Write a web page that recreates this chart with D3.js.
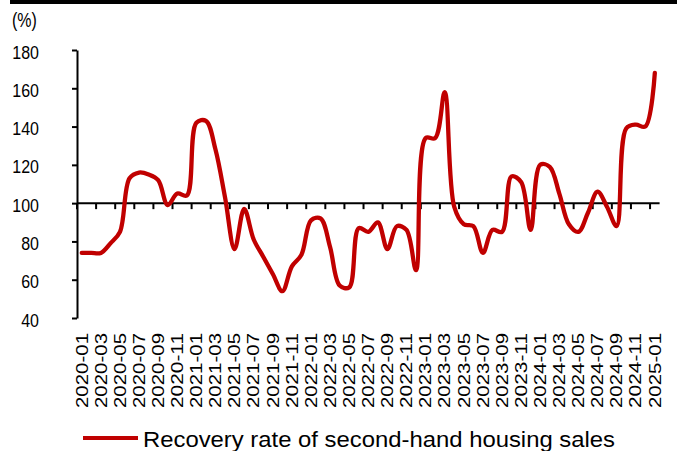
<!DOCTYPE html>
<html>
	<head>
		<meta charset="utf-8">
		<style>
* {
	margin: 0;
	padding: 0;
}
body {
	background: #fff;
	width: 677px;
	height: 451px;
	overflow: hidden;
}
svg {
	display: block;
	font-family: "Liberation Sans", Arial, sans-serif;
}
		</style>
	</head>
	<body>
		<div id="chart"></div>
		<script src="https://cdn.jsdelivr.net/npm/d3@7"></script>
		<script>

var months = [
	'2020-01', '2020-02', '2020-03', '2020-04', '2020-05', '2020-06', '2020-07', '2020-08', '2020-09', '2020-10', '2020-11', '2020-12',
	'2021-01', '2021-02', '2021-03', '2021-04', '2021-05', '2021-06', '2021-07', '2021-08', '2021-09', '2021-10', '2021-11', '2021-12',
	'2022-01', '2022-02', '2022-03', '2022-04', '2022-05', '2022-06', '2022-07', '2022-08', '2022-09', '2022-10', '2022-11', '2022-12',
	'2023-01', '2023-02', '2023-03', '2023-04', '2023-05', '2023-06', '2023-07', '2023-08', '2023-09', '2023-10', '2023-11', '2023-12',
	'2024-01', '2024-02', '2024-03', '2024-04', '2024-05', '2024-06', '2024-07', '2024-08', '2024-09', '2024-10', '2024-11', '2024-12',
	'2025-01'
];

// recovery rate, %
var recovery = [
	74, 74, 74, 79, 85, 113, 116, 115, 112, 99, 105, 104,
	142, 143, 128, 103, 76, 97, 81, 72, 63, 54, 67, 73,
	91, 92, 77, 57, 56, 87, 85, 90, 76, 88, 86, 65,
	134, 134, 158, 98, 89, 88, 74, 86, 85, 114, 111, 86,
	120, 119, 105, 89, 85, 95, 106, 98, 88, 139, 141, 140,
	168
];

var yTicks = [ 40, 60, 80, 100, 120, 140, 160, 180 ];
var seriesName = 'Recovery rate of second-hand housing sales';

var width = 677, height = 451;
var red = '#c00000';

var svg = d3.select( '#chart' ).append( 'svg' )
	.attr( 'width', width )
	.attr( 'height', height );

// black rule along the top
svg.append( 'rect' )
	.attr( 'x', 10 ).attr( 'y', 0 )
	.attr( 'width', width - 10 ).attr( 'height', 4 )
	.attr( 'fill', '#000' );

var x = d3.scaleBand().domain( months ).range( [ 77, 659.6 ] ).padding( 0 );
var y = d3.scaleLinear().domain( [ 40, 180 ] ).range( [ 318, 50 ] );
var bw = x.bandwidth();

// y axis
var yAxis = svg.append( 'g' )
	.attr( 'transform', 'translate(77,0)' )
	.call( d3.axisLeft( y ).tickValues( yTicks ).tickSize( 5 ).tickPadding( 33 ).tickSizeOuter( 0 ) );
yAxis.select( '.domain' ).attr( 'stroke', '#000' ).attr( 'stroke-width', 2 );
yAxis.selectAll( '.tick line' ).attr( 'stroke', '#000' ).attr( 'stroke-width', 2 );
yAxis.selectAll( '.tick text' )
	.attr( 'font-size', 16 )
	.attr( 'font-family', '"Liberation Sans", Arial, sans-serif' )
	.attr( 'fill', '#000' )
	.attr( 'dy', '0.45em' )
	.attr( 'transform', 'scale(1,1.12)' )
	.attr( 'y', function ( d ) { return 0; } );
// undo the vertical scaling offset: each tick group is translated, text sits at 0
yAxis.selectAll( '.tick text' ).attr( 'transform', 'translate(0,0) scale(1,1.12)' );

svg.append( 'text' )
	.attr( 'transform', 'translate(12,27) scale(1,1.3)' )
	.attr( 'font-size', 16 )
	.text( '(%)' );

// category axis crossing at 100
var axisY = y( 100 );
svg.append( 'line' )
	.attr( 'x1', 77 ).attr( 'x2', 659.6 )
	.attr( 'y1', axisY ).attr( 'y2', axisY )
	.attr( 'stroke', '#000' ).attr( 'stroke-width', 2 );

var everyOther = months.filter( function ( d, i ) { return i % 2 === 0; } );

svg.append( 'g' ).selectAll( 'line' )
	.data( everyOther )
	.enter()
	.append( 'line' )
	.attr( 'x1', function ( d ) { return x( d ); } )
	.attr( 'x2', function ( d ) { return x( d ); } )
	.attr( 'y1', axisY )
	.attr( 'y2', axisY + 6 )
	.attr( 'stroke', '#000' ).attr( 'stroke-width', 2 );

// month labels along the bottom
svg.append( 'g' ).selectAll( 'text' )
	.data( everyOther )
	.enter()
	.append( 'text' )
	.attr( 'transform', function ( d ) {
		return 'translate(' + ( x( d ) + bw / 2 ) + ',333) rotate(-90)';
	} )
	.attr( 'text-anchor', 'end' )
	.attr( 'dy', '0.36em' )
	.attr( 'font-size', 16 )
	.attr( 'textLength', 75 )
	.attr( 'lengthAdjust', 'spacingAndGlyphs' )
	.text( function ( d ) { return d; } );

// the series
var line = d3.line()
	.x( function ( d, i ) { return x( months[i] ) + bw / 2; } )
	.y( function ( d ) { return y( d ); } )
	.curve( d3.curveCatmullRom.alpha( 0.5 ) );

svg.append( 'path' )
	.datum( recovery )
	.attr( 'd', line )
	.attr( 'fill', 'none' )
	.attr( 'stroke', red )
	.attr( 'stroke-width', 4.3 )
	.attr( 'stroke-linejoin', 'round' )
	.attr( 'stroke-linecap', 'round' );

// legend
var legend = svg.append( 'g' );
legend.append( 'line' )
	.attr( 'x1', 83 ).attr( 'x2', 138 )
	.attr( 'y1', 438 ).attr( 'y2', 438 )
	.attr( 'stroke', red ).attr( 'stroke-width', 4 );
legend.append( 'text' )
	.attr( 'x', 143 ).attr( 'y', 447 )
	.attr( 'font-size', 22 )
	.attr( 'textLength', 472 )
	.attr( 'lengthAdjust', 'spacingAndGlyphs' )
	.text( seriesName );

		</script>
	</body>
</html>
